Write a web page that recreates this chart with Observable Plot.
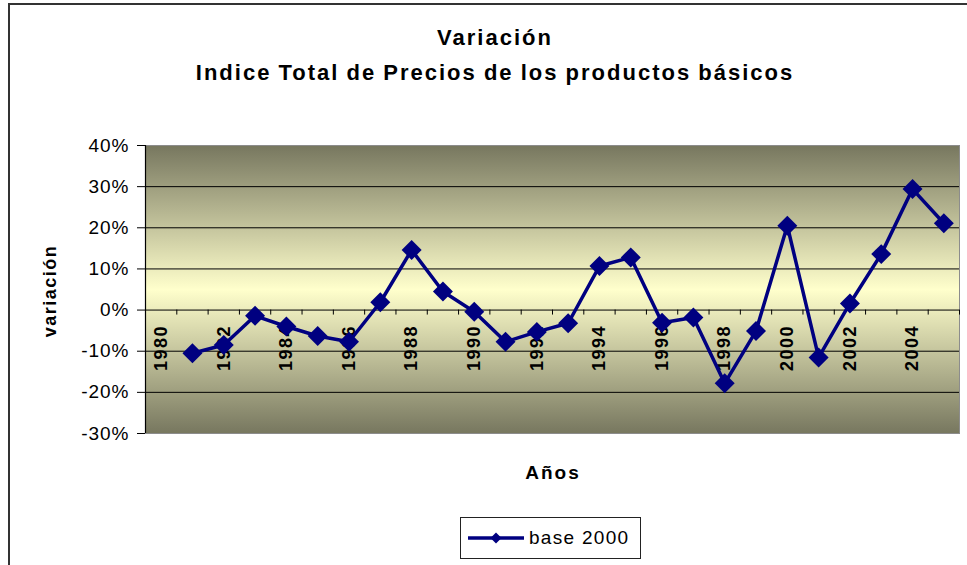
<!DOCTYPE html>
<html>
<head>
<meta charset="utf-8">
<script src="https://cdn.jsdelivr.net/npm/d3@7"></script>
<script src="https://cdn.jsdelivr.net/npm/@observablehq/plot@0.6"></script>
<style>
  html, body { margin: 0; padding: 0; background: #fff; }
  #wrap { position: relative; width: 967px; height: 565px; overflow: hidden;
          font-family: "Liberation Sans", Arial, sans-serif; color: #000; }
  #outer { position: absolute; left: 8px; top: 3px; width: 990px; height: 620px;
           border: 2px solid #333; box-sizing: border-box; }
  #chart { position: absolute; left: 0; top: 0; }
  .title { position: absolute; left: 0; width: 988px; padding-left: 2px; box-sizing: border-box;
           text-align: center; font-weight: bold; font-size: 22px; line-height: 22px;
           letter-spacing: 2px; word-spacing: -1px; white-space: nowrap; }
  #ylab { position: absolute; left: 50px; top: 291px; transform: translate(-50%, -50%) rotate(-90deg);
          font-weight: bold; font-size: 18px; line-height: 18px; letter-spacing: 1.5px; white-space: nowrap; }
  #xlab { position: absolute; left: 452px; width: 200px; top: 463px; text-align: center;
          font-weight: bold; font-size: 19px; line-height: 19px; letter-spacing: 2px; padding-left: 2px; box-sizing: border-box; }
  #legend { position: absolute; left: 460px; top: 517px; width: 181px; height: 42px;
            border: 1px solid #222; box-sizing: border-box; background: #fff; }
  #legend span { position: absolute; left: 68px; top: 10px; font-size: 19px; line-height: 19px;
                 letter-spacing: 1.3px; white-space: nowrap; }
  g[aria-label="y-axis"] text, g[aria-label="y-axis tick label"] text { font-size: 19px; letter-spacing: 1px; }
  g[aria-label="text"] text { letter-spacing: 1.5px; }
</style>
</head>
<body>
<div id="wrap">
  <div id="outer"></div>
  <div id="chart"></div>
  <div class="title" style="top:27px">Variación</div>
  <div class="title" style="top:62px">Indice Total de Precios de los productos básicos</div>
  <div id="ylab">variación</div>
  <div id="xlab">Años</div>
  <div id="legend">
    <svg width="70" height="40" style="position:absolute;left:0;top:0">
      <line x1="7" x2="63" y1="20" y2="20" stroke="#000080" stroke-width="3.5"></line>
      <path d="M35,14.5L40.5,20L35,25.5L29.5,20Z" fill="#000080"></path>
    </svg>
    <span>base 2000</span>
  </div>
</div>
<script>
// Data
const years = [1981, 1982, 1983, 1984, 1985, 1986, 1987, 1988, 1989, 1990,
               1991, 1992, 1993, 1994, 1995, 1996, 1997, 1998, 1999, 2000,
               2001, 2002, 2003, 2004, 2005];
const values = [-0.105, -0.085, -0.014, -0.040, -0.063, -0.077, 0.019, 0.146, 0.045, -0.004,
                -0.077, -0.053, -0.032, 0.107, 0.128, -0.031, -0.018, -0.178, -0.051, 0.205,
                -0.115, 0.016, 0.136, 0.294, 0.211];
const labelYears = [1980, 1982, 1984, 1986, 1988, 1990, 1992, 1994, 1996, 1998, 2000, 2002, 2004];
const yTicks = [-0.3, -0.2, -0.1, 0, 0.1, 0.2, 0.3, 0.4];
const gridValues = [-0.2, -0.1, 0, 0.1, 0.2, 0.3];
const xDomain = [1979.5, 2005.5];
const categoryBoundaries = [1980.5, 1981.5, 1982.5, 1983.5, 1984.5, 1985.5, 1986.5, 1987.5, 1988.5,
                            1989.5, 1990.5, 1991.5, 1992.5, 1993.5, 1994.5, 1995.5, 1996.5, 1997.5,
                            1998.5, 1999.5, 2000.5, 2001.5, 2002.5, 2003.5, 2004.5, 2005.5];

const data = years.map((year, i) => ({year, value: values[i]}));

const chart = Plot.plot({
  width: 967,
  height: 565,
  marginLeft: 145,
  marginRight: 8,
  marginTop: 145,
  marginBottom: 132,
  style: {background: "transparent", fontFamily: "'Liberation Sans', Arial, sans-serif",
          fontSize: "19px", color: "#000", overflow: "visible"},
  x: {domain: xDomain, axis: null},
  y: {domain: [-0.3, 0.4], ticks: yTicks, tickFormat: d => Math.round(d * 100) + "%",
      tickSize: 8, tickPadding: 8, label: null},
  marks: [
    Plot.frame({fill: "url(#plotBg)", stroke: "#8c8c8c"}),
    Plot.ruleY(gridValues, {stroke: "#000", strokeWidth: 1}),
    Plot.ruleX([xDomain[0]], {stroke: "#000", strokeWidth: 1.2}),
    Plot.ruleX(categoryBoundaries, {y1: 0, y2: 0, insetBottom: -5, stroke: "#000"}),
    Plot.text(labelYears, {x: d => d, y: 0, text: d => String(d), rotate: -90,
                           textAnchor: "end", dy: 15, fontWeight: "bold", fontSize: 18, fill: "#000"}),
    Plot.line(data, {x: "year", y: "value", stroke: "#000080", strokeWidth: 3.5}),
    Plot.dot(data, {x: "year", y: "value", symbol: "diamond2", r: 9, fill: "#000080", stroke: "none"})
  ]
});

const defs = d3.select(chart).insert("defs", ":first-child");
const grad = defs.append("linearGradient").attr("id", "plotBg")
  .attr("x1", 0).attr("y1", 0).attr("x2", 0).attr("y2", 1);
grad.append("stop").attr("offset", "0%").attr("stop-color", "#77775f");
grad.append("stop").attr("offset", "50%").attr("stop-color", "#ffffcc");
grad.append("stop").attr("offset", "100%").attr("stop-color", "#77775f");

document.getElementById("chart").appendChild(chart);
</script>
</body>
</html>
